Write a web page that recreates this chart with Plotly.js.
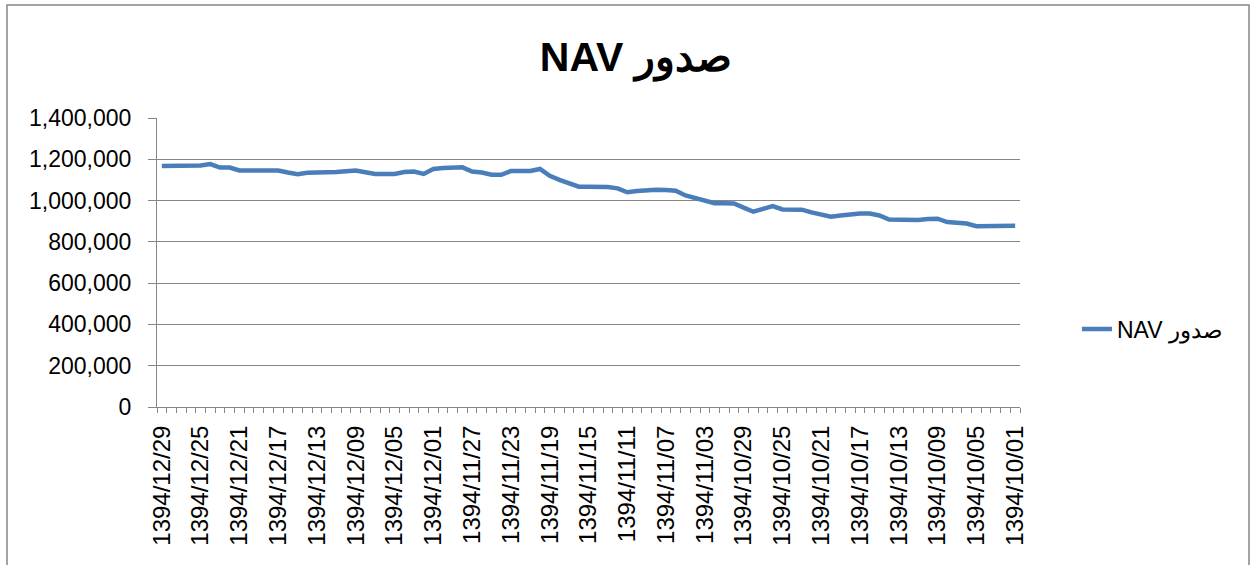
<!DOCTYPE html>
<html>
<head>
<meta charset="utf-8">
<script src="https://cdn.plot.ly/plotly-3.0.1.min.js"></script>
<style>html,body{margin:0;padding:0;background:#fff;}#chart{width:1254px;height:565px;}</style>
</head>
<body>
<div id="chart"></div>
<script>
const dates = [
"1394/12/29","1394/12/28","1394/12/27","1394/12/26","1394/12/25","1394/12/24","1394/12/23","1394/12/22","1394/12/21","1394/12/20",
"1394/12/19","1394/12/18","1394/12/17","1394/12/16","1394/12/15","1394/12/14","1394/12/13","1394/12/12","1394/12/11","1394/12/10",
"1394/12/09","1394/12/08","1394/12/07","1394/12/06","1394/12/05","1394/12/04","1394/12/03","1394/12/02","1394/12/01",
"1394/11/30","1394/11/29","1394/11/28","1394/11/27","1394/11/26","1394/11/25","1394/11/24","1394/11/23","1394/11/22","1394/11/21",
"1394/11/20","1394/11/19","1394/11/18","1394/11/17","1394/11/16","1394/11/15","1394/11/14","1394/11/13","1394/11/12","1394/11/11",
"1394/11/10","1394/11/09","1394/11/08","1394/11/07","1394/11/06","1394/11/05","1394/11/04","1394/11/03","1394/11/02","1394/11/01",
"1394/10/30","1394/10/29","1394/10/28","1394/10/27","1394/10/26","1394/10/25","1394/10/24","1394/10/23","1394/10/22","1394/10/21",
"1394/10/20","1394/10/19","1394/10/18","1394/10/17","1394/10/16","1394/10/15","1394/10/14","1394/10/13","1394/10/12","1394/10/11",
"1394/10/10","1394/10/09","1394/10/08","1394/10/07","1394/10/06","1394/10/05","1394/10/04","1394/10/03","1394/10/02","1394/10/01"
];
const navValues = [
1167000,1167000,1167000,1167000,1170000,1177000,1160000,1160000,1146000,1146000,
1146000,1146000,1146000,1136000,1128000,1135000,1135000,1136000,1138000,1142000,
1146000,1137000,1129000,1129000,1129000,1138000,1141000,1129000,1153000,1158000,
1160000,1161000,1141000,1136000,1125000,1125000,1143000,1143000,1143000,1153000,
1120000,1100000,1083000,1067000,1067000,1067000,1066000,1059000,1040000,1046000,
1051000,1052000,1051000,1048000,1025000,1012000,999000,987000,987000,986000,
966000,946000,960000,973000,957000,957000,956000,943000,935000,922000,
928000,935000,937000,937000,928000,908000,906000,906000,906000,911000,
912000,896000,893000,889000,876000,876000,879000,879000,878000
];
const tickLabels = [
"1394/12/29","1394/12/25","1394/12/21","1394/12/17","1394/12/13","1394/12/09","1394/12/05","1394/12/01",
"1394/11/27","1394/11/23","1394/11/19","1394/11/15","1394/11/11","1394/11/07","1394/11/03",
"1394/10/29","1394/10/25","1394/10/21","1394/10/17","1394/10/13","1394/10/09","1394/10/05","1394/10/01"
];
const seriesName = "\u202Bصدور NAV\u202C";
const titleText = "\u202Bصدور NAV\u202C";

const gray = "#868686";
const font = "'Liberation Sans', Arial, sans-serif";

const traces = [
  {x: dates, y: navValues, type: "scatter", mode: "lines", name: seriesName,
   line: {color: "#4A7EBB", width: 4.5}, xaxis: "x", yaxis: "y"},
  {x: dates, y: navValues, type: "scatter", mode: "lines", showlegend: false,
   hoverinfo: "skip", opacity: 0, line: {width: 0}, xaxis: "x2", yaxis: "y"}
];

const layout = {
  width: 1254, height: 565,
  paper_bgcolor: "#fff", plot_bgcolor: "#fff",
  margin: {l: 157, r: 234, t: 118, b: 158},
  title: {text: titleText, x: 0.507, xref: "container", xanchor: "center",
          y: 1 - 57/565, yref: "container", yanchor: "middle",
          font: {family: font, size: 41, color: "#000", weight: "bold"}},
  showlegend: true,
  legend: {x: 1.066, y: 0.27, xanchor: "left", yanchor: "middle",
           font: {family: font, size: 23, color: "#000"}, bgcolor: "rgba(0,0,0,0)"},
  xaxis: {type: "category", categoryorder: "array", categoryarray: dates,
          range: [-0.5, dates.length - 0.5], autorange: false,
          tickmode: "array", tickvals: tickLabels, ticktext: tickLabels,
          tickangle: -90, ticks: "", ticklabelstandoff: 8,
          showline: true, linecolor: gray, linewidth: 1, showgrid: false, zeroline: false,
          tickfont: {family: font, size: 24, color: "#000"}},
  xaxis2: {type: "category", overlaying: "x", anchor: "y", side: "bottom",
           categoryorder: "array", categoryarray: dates,
           range: [-0.5, dates.length - 0.5], autorange: false,
           tickmode: "linear", tick0: 0, dtick: 1, tickson: "boundaries",
           ticks: "outside", ticklen: 5, tickcolor: gray, tickwidth: 1,
           showticklabels: false, showgrid: false, showline: false, zeroline: false},
  yaxis: {range: [0, 1400000], autorange: false, tickmode: "linear", tick0: 0, dtick: 200000,
          tickformat: ",d", ticks: "outside", ticklen: 8, tickcolor: gray, tickwidth: 1,
          ticklabelstandoff: 12,
          showline: true, linecolor: gray, linewidth: 1,
          showgrid: true, gridcolor: gray, gridwidth: 1, zeroline: false,
          tickfont: {family: font, size: 23, color: "#000"}},
  shapes: [
    {type: "rect", xref: "paper", yref: "paper",
     x0: (7 - 157) / 863, x1: (1249 - 157) / 863,
     y0: (407 - 5) / 289, y1: (407 - 600) / 289,
     line: {color: gray, width: 1.5}, fillcolor: "rgba(0,0,0,0)", layer: "below"}
  ]
};

Plotly.newPlot("chart", traces, layout, {displayModeBar: false, staticPlot: true});
</script>
</body>
</html>
